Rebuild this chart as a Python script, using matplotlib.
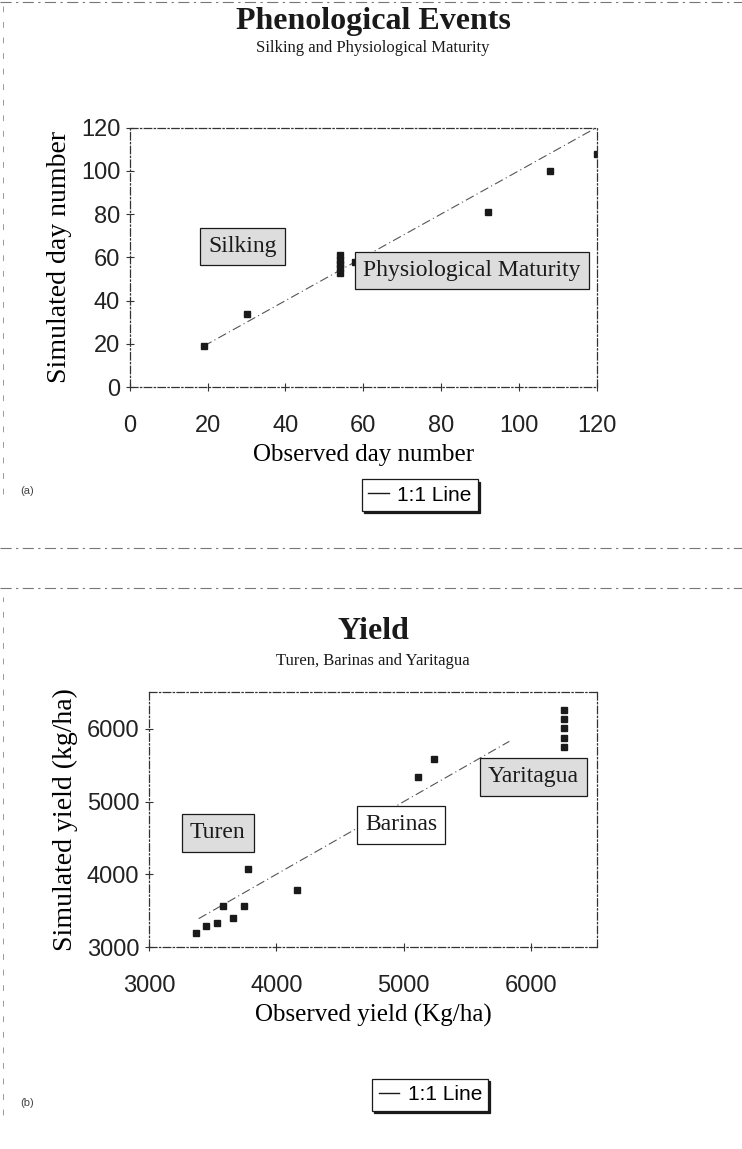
import matplotlib
matplotlib.use("Agg")
import matplotlib.pyplot as plt
from matplotlib.lines import Line2D

# --- data: phenology (observed vs simulated day number)
pheno_obs = [19, 30, 54, 54, 54, 54, 54, 58, 92, 108, 120]
pheno_sim = [19, 34, 53, 55, 57, 59, 61, 58, 81, 100, 108]
pheno_line = [19, 120]
pheno_ticks = [0, 20, 40, 60, 80, 100, 120]

# --- data: yield (observed vs simulated, kg/ha)
yield_obs = [3370, 3450, 3535, 3580, 3660, 3745, 3780, 4160, 5110, 5240,
             6260, 6260, 6260, 6260, 6260]
yield_sim = [3190, 3290, 3330, 3570, 3400, 3570, 4080, 3790, 5340, 5590,
             5750, 5880, 6010, 6140, 6260]
yield_line = [3390, 5830]
yield_xticks = [3000, 4000, 5000, 6000]
yield_yticks = [3000, 4000, 5000, 6000]

SERIF = "Liberation Serif"
SANS = "Liberation Sans"
INK = "#1a1a1a"

fig = plt.figure(figsize=(7.42, 11.49), dpi=100)


def style_axes(ax):
    for s in ax.spines.values():
        s.set_linestyle((0, (6, 2, 1, 2)))
        s.set_linewidth(0.9)
        s.set_color("#333333")
    ax.tick_params(direction="inout", length=6, width=0.8, color="#333333",
                   labelsize=17)
    ax.tick_params(axis="x", pad=17)
    ax.tick_params(axis="y", pad=4)
    for lab in ax.get_xticklabels() + ax.get_yticklabels():
        lab.set_fontfamily(SANS)
        lab.set_color("#222222")


def label_box(ax, x, y, txt, fc):
    ax.text(x, y, txt, family=SERIF, fontsize=17, color=INK,
            ha="center", va="center", zorder=5,
            bbox=dict(boxstyle="square,pad=0.35", fc=fc, ec=INK, lw=0.9))


def legend_box(ax, x, y):
    h = Line2D([], [], color=INK, lw=1.0)
    leg = ax.legend([h], ["1:1 Line"], loc="center", bbox_to_anchor=(x, y),
                    bbox_transform=fig.transFigure, handlelength=1.0,
                    handletextpad=0.4, fancybox=False, framealpha=1,
                    edgecolor=INK, prop={"family": SANS, "size": 15},
                    borderpad=0.3,
                    shadow={"ox": 1.5, "oy": -1.5, "color": INK,
                            "alpha": 1})
    leg.get_frame().set_linewidth(0.9)


# ---------- (a) phenological events
ax1 = fig.add_axes([0.175, 0.663, 0.629, 0.226])
ax1.plot(pheno_line, pheno_line, color="#555555", lw=0.8,
         ls=(0, (8, 3, 1, 3)))
ax1.plot(pheno_obs, pheno_sim, ls="none", marker="s", ms=5, color=INK)
ax1.set_xlim(0, 120)
ax1.set_ylim(0, 120)
ax1.set_xticks(pheno_ticks)
ax1.set_yticks(pheno_ticks)
style_axes(ax1)
ax1.set_xlabel("Observed day number", family=SERIF, fontsize=18, labelpad=5)
ax1.set_ylabel("Simulated day number", family=SERIF, fontsize=20, labelpad=6)
label_box(ax1, 29, 65, "Silking", "#dddddd")
label_box(ax1, 88, 54, "Physiological Maturity", "#dddddd")
legend_box(ax1, 0.566, 0.569)

fig.text(0.503, 0.981, "Phenological Events", family=SERIF, fontsize=23,
         weight="bold", ha="center", va="center", color=INK)
fig.text(0.503, 0.958, "Silking and Physiological Maturity", family=SERIF,
         fontsize=12, ha="center", va="center", color=INK)
fig.text(0.027, 0.573, "(a)", family=SANS, fontsize=8, ha="left",
         va="center", color="#444444")

# ---------- (b) yield
ax2 = fig.add_axes([0.2008, 0.1758, 0.604, 0.222])
ax2.plot(yield_line, yield_line, color="#555555", lw=0.8,
         ls=(0, (8, 3, 1, 3)))
ax2.plot(yield_obs, yield_sim, ls="none", marker="s", ms=5, color=INK)
ax2.set_xlim(3000, 6520)
ax2.set_ylim(3000, 6510)
ax2.set_xticks(yield_xticks)
ax2.set_yticks(yield_yticks)
style_axes(ax2)
ax2.set_xlabel("Observed yield (Kg/ha)", family=SERIF, fontsize=18,
               labelpad=5)
ax2.set_ylabel("Simulated yield (kg/ha)", family=SERIF, fontsize=20,
               labelpad=6)
label_box(ax2, 3540, 4570, "Turen", "#dddddd")
label_box(ax2, 4980, 4680, "Barinas", "white")
label_box(ax2, 6020, 5340, "Yaritagua", "#dddddd")
legend_box(ax2, 0.580, 0.047)

fig.text(0.503, 0.450, "Yield", family=SERIF, fontsize=23,
         weight="bold", ha="center", va="center", color=INK)
fig.text(0.503, 0.4246, "Turen, Barinas and Yaritagua", family=SERIF,
         fontsize=12, ha="center", va="center", color=INK)
fig.text(0.027, 0.040, "(b)", family=SANS, fontsize=8, ha="left",
         va="center", color="#444444")

# faint scan separators
for yy in [0.998, 0.523, 0.488]:
    fig.add_artist(Line2D([0, 1], [yy, yy], transform=fig.transFigure,
                          color="#777777", lw=0.8, ls=(0, (10, 4, 2, 4))))
fig.add_artist(Line2D([0.004, 0.004], [0.57, 0.995],
                      transform=fig.transFigure, color="#999999", lw=0.7,
                      ls=(0, (6, 10))))
fig.add_artist(Line2D([0.004, 0.004], [0.03, 0.48],
                      transform=fig.transFigure, color="#999999", lw=0.7,
                      ls=(0, (6, 10))))

fig.savefig("out.png", dpi=100)
